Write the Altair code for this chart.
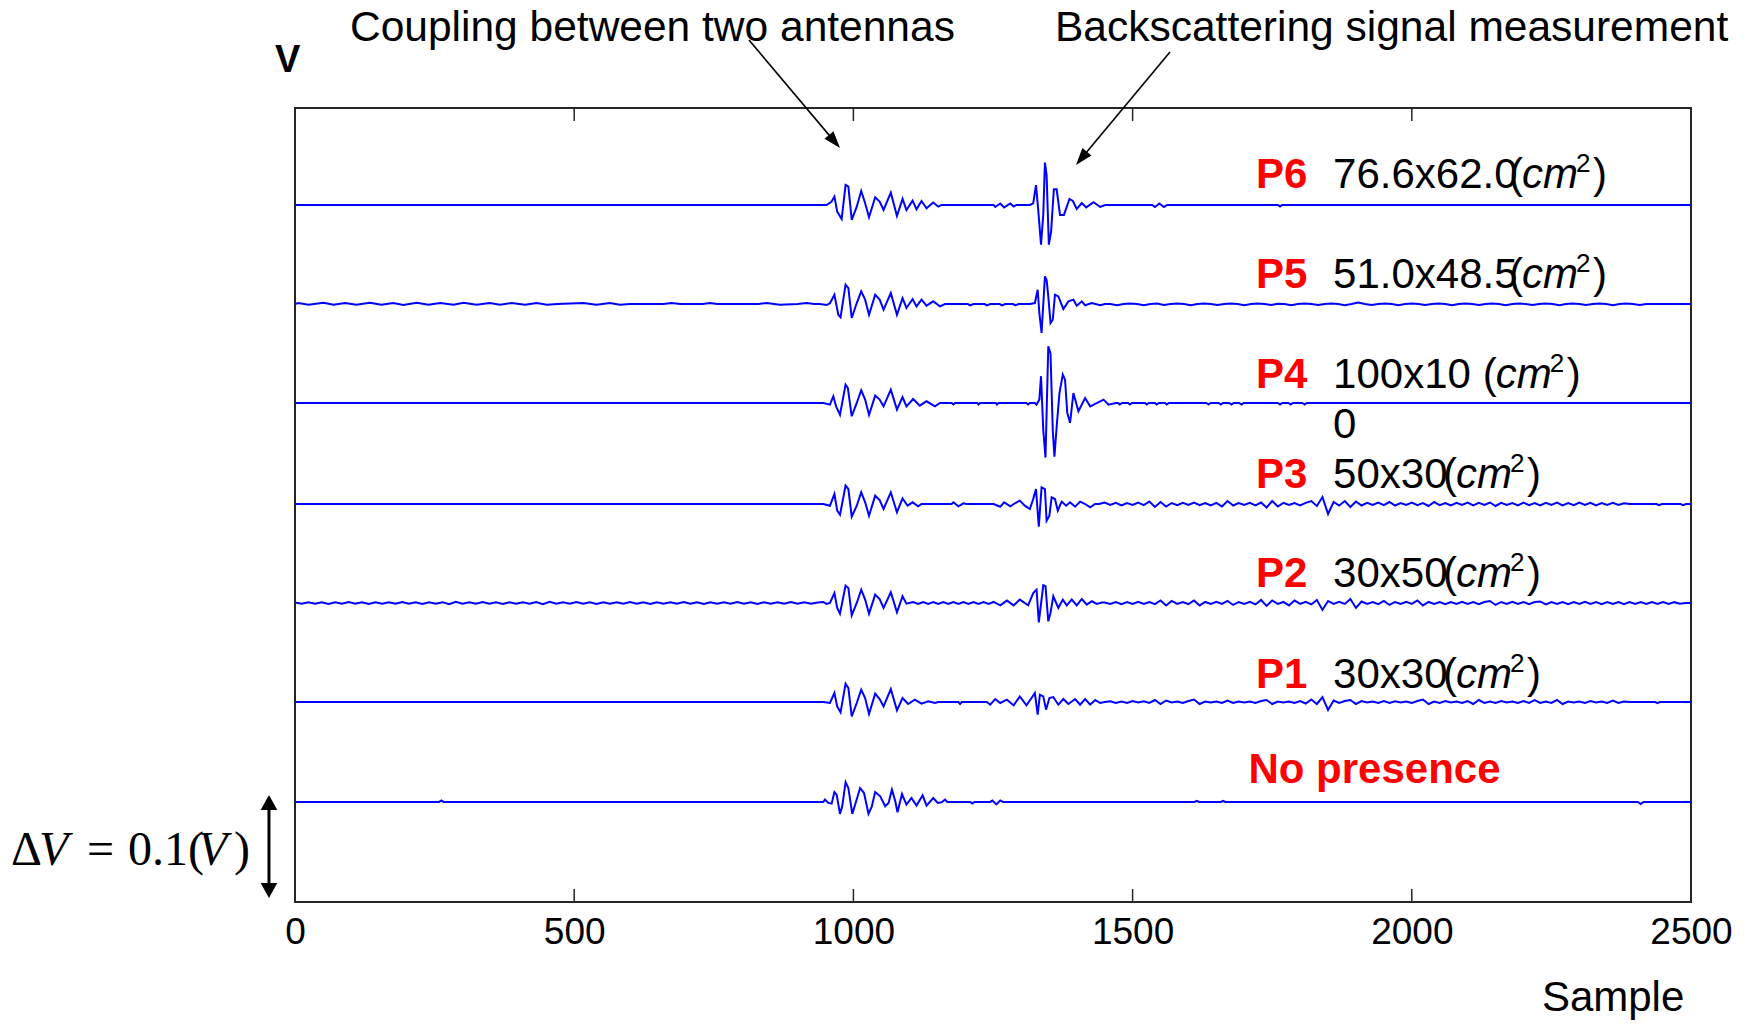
import math
import altair as alt
import pandas as pd

# ---------------- data ----------------
trace_names = ["P6", "P5", "P4", "P3", "P2", "P1", "No presence"]
trace_offsets = [0.6023, 0.5025, 0.4028, 0.3010, 0.2013, 0.1015, 0.0008]  # V

# (sample, mV) points relative to each trace baseline
P6_coupling = [(946, 0), (952, 0), (961, 3.4), (966, 8.4), (971, -6.7), (979, -14.1), (986, 20.2), (991, 18.5),
               (997, -15.1), (1006, -1.7), (1014, 14.1), (1021, 1.7), (1028, -12.4), (1039, 7.7), (1047, 3.4),
               (1054, -5.0), (1067, 12.4), (1078, -11.1), (1088, 6.1), (1095, -5.0), (1106, 4.4), (1113, -4.4),
               (1122, 4.0), (1131, -3.4), (1143, 2.4), (1152, -1.7), (1158, 0)]
P6_echo = [(1251, 0), (1254, -2), (1263, 1.5), (1270, -2.5), (1281, 1.5), (1287, -1.5), (1292, 0), (1316, 0),
           (1322, 1.7), (1327, 20), (1331, -5), (1336, -40), (1340, -10), (1343, 42.7), (1346, 30), (1350, -40),
           (1354, -27), (1359, 15.8), (1364, 15.8), (1370, -10), (1377, -10), (1387, 6), (1393, 4), (1400, -4),
           (1409, 2), (1417, -2.4), (1430, 2.7), (1442, -2), (1451, 0), (1535, 0), (1540, -2), (1548, 1.5),
           (1556, -2), (1562, 0), (1760, 0), (1764, -1.5), (1768, 0)]

P5_left = [(6, 1.0), (24, -0.8), (51, 1.2), (69, -0.8), (90, 1.0), (110, -0.8), (134, 1.2), (155, -0.8),
           (176, 1.0), (194, -1.0), (218, 1.2), (239, -0.8), (260, 1.0), (284, -0.8), (302, 1.2), (325, -0.8),
           (349, 1.0), (367, -0.8), (388, 1.0), (412, -0.8), (433, 1.0), (451, -0.8), (470, 0), (516, 1.0),
           (540, -0.8), (564, 1.0), (582, -0.8), (600, 0), (660, 0), (674, 1.0), (690, 0), (730, 0), (743, 1.0),
           (756, 0), (830, 0), (845, 1.0), (868, -0.8), (900, 0), (916, 1.0), (930, 0)]
P5_coupling = [(940, 0), (952, -1), (958, 0.8), (966, 9.4), (973, -10.8), (977, -13.4), (986, 19.5), (991, 16.1),
               (997, -14.1), (1006, 1), (1014, 12.8), (1021, 4.4), (1028, -10.8), (1039, 9.4), (1047, 4.4),
               (1054, -5.7), (1067, 11.1), (1078, -10.8), (1088, 6), (1095, -4), (1106, 5), (1113, -2.4),
               (1122, 4.4), (1131, -1.7), (1143, 2.7), (1155, -2.4), (1164, 0), (1205, 0), (1209, -1.3),
               (1215, 0), (1235, 0), (1239, -1.3), (1245, 0), (1262, 0), (1266, -1.3), (1272, 0), (1286, 0),
               (1290, -1.3), (1296, 0)]
P5_echo = [(1316, 0), (1325, 1), (1330, 14.4), (1333, -9), (1337, -29.2), (1343, 27.9), (1346, 24.2), (1349, 7.7),
           (1353, -19.2), (1357, -15.8), (1361, 9.4), (1367, 7.7), (1376, -5), (1385, 2.7), (1394, 4.4),
           (1400, -1.7), (1409, 2.7), (1415, -1.3), (1427, 1), (1442, -1.3), (1450, 0)]
P5_right_start, P5_right_step = 1460, 12
P5_right_mv = [0, -1.2, 0, 0.6, 0, -1.2, 0, 0.5, -1, 0, 0.6, 0, -1.2, 0, 0.5, 0, -1, 0, 0.6, 0, -1.2, 0, 0.5, 0,
               -1, 0.3, 0, -1.2, 0, 0.6, 0, -1, 0, 0.5, 0, -1.2, 0, 1.5, 0, -1, 0, 0.6, 0, -1.2, 0, 0.5, 0, -1, 0,
               0.6, 0, -1.2, 0, 0.5, 0, -1, 0, 0.6, 0, -1.2, 0, 0.5, 0, -1, 0, 0.6, 0, -1.2, 0, 0.5, 0, -1, 0,
               0.6, 0, -1.2, 0, 0.5, 0, -1, 0]

P4_coupling = [(946, 0), (958, -1.7), (964, 6.7), (969, -3.4), (976, -11.8), (986, 18.5), (990, 15.1),
               (997, -13.4), (1006, 0), (1014, 12.8), (1021, 3.4), (1028, -12.1), (1039, 7.4), (1047, 3.4),
               (1054, -3.4), (1067, 13.4), (1078, -6.7), (1088, 6), (1095, -3.4), (1107, 4), (1119, -2.7),
               (1131, 1.7), (1146, -3.4), (1155, 0), (1176, 0), (1179, -1.5), (1182, 0), (1222, 0), (1224, -1.5),
               (1227, 0), (1255, 0), (1257, -1.5), (1260, 0), (1310, 0), (1313, -1.5), (1316, 0)]
P4_echo = [(1325, 0), (1328, -1.7), (1333, 3.4), (1336, 27), (1340, -27), (1344, -55), (1349, 57), (1353, 50),
           (1357, -27), (1360, -54), (1364, -24), (1369, 10), (1375, 28.6), (1379, 23.5), (1383, -10),
           (1388, -20), (1394, 10), (1403, -8.4), (1415, 5), (1424, -3.4), (1448, 3.4), (1457, -1.7), (1470, 0)]
P4_right = [(1474, 0), (1477, -1.5), (1481, 0), (1492, 0), (1495, -1.5), (1499, 0), (1522, 0), (1525, -1.5),
            (1529, 0), (1540, 0), (1543, -1.5), (1547, 0), (1558, 0), (1561, -1.5), (1565, 0), (1632, 0),
            (1636, -1.5), (1640, 0), (1654, 0), (1658, -1.5), (1662, 0), (1673, 0), (1677, -1.5), (1681, 0),
            (1691, 0), (1695, -1.5), (1699, 0), (1760, 0), (1764, -1.5), (1768, 0), (1779, 0), (1783, -1.5),
            (1787, 0), (1804, 0), (1808, -1.5), (1812, 0)]

P3_coupling = [(946, 0), (958, -1.7), (966, 10), (971, -6.7), (976, -10.8), (986, 18.5), (991, 15.1),
               (997, -12.8), (1006, -1.7), (1014, 11.8), (1021, 1.7), (1028, -11.8), (1039, 8.4), (1047, 4),
               (1054, -5), (1067, 11.8), (1078, -8.4), (1088, 5.7), (1097, -1.7), (1106, 1.7), (1116, -2.4),
               (1122, 0), (1176, 0), (1179, 1.7), (1188, -2.4), (1197, 0.7), (1203, 0)]
P3_echo = [(1251, 0), (1263, -2.7), (1270, 1.7), (1281, -2.4), (1290, 1), (1298, 3.4), (1307, -1.7), (1316, -5),
           (1322, 5), (1327, 15), (1332, -22.8), (1337, 16.8), (1343, 15.1), (1346, -16.8), (1351, -11.8),
           (1355, 6.7), (1361, 5), (1366, -6.7), (1373, 2.4), (1381, -1.7), (1388, 1.7), (1397, -2.7),
           (1406, 2.4), (1415, 0), (1424, -3.4), (1433, 0)]
P3_right_start, P3_right_step = 1440, 10
P3_right_mv = [0, 1.5, -1, 1.2, -1.5, 1, -1, 1.5, -1.2, 2.5, -3, 2, -2.5, 1, -1.2, 1.2, -1, 1.5, -1.2, 1, -1.5,
               1.2, -2.5, 3, -1.5, 1, -1, 1.2, -1.5, 1.5, -3.5, 3, -2.5, 1.2, -1, 1, -1.5, 1.2, 3, -2, 7, -10, 2,
               -1.5, 3, -3, 2.5, -1.5, 1.2, -1, 1.5, -1.2, 2, -1.5, 1, -1, 1.5, -1.2, 1, -2, 2, -1.2, 1, -1.5, 1.2,
               -1, 1.5, -1.5, 1.2, -1, 1.5, -2, 1.2, -1, 1, -1.5, 1.5, -1.2, 1, -1.5, 1.2, -1, 1.5, -1.5, 1, -1.2,
               1.5, -1, 1.2, -1.5, 1, -1, 1.2, -1, 0.8, 0]
P3_tail = [(2438, 0), (2443, -1.2), (2448, 0), (2481, 0), (2486, -1.2), (2491, 0)]

P2_left_start, P2_left_step = 0, 12
P2_left_mv = [0.5, -0.8, 0.8, -0.8, 0.6, -1, 0.8, -0.8, 1, -0.8, 0.8, -1, 0.8, -0.8, 0.8, -0.8, 1, -0.8, 0.8,
              -1, 0.8, -0.8, 0.8, -1.2, 1.2, -0.8, 0.8, -0.8, 1, -0.8, 0.8, -1, 0.8, -0.8, 0.8, -0.8, 1, -1.2,
              1.2, -0.8, 0.8, -0.8, 1, -0.8, 0.8, -1, 0.8, -0.8, 0.8, -0.8, 1, -0.8, 0.8, -1, 0.8, -0.8, 0.8,
              -0.8, 1, -0.8, 0.8, -1, 0.8, -0.8, 0.8, -0.8, 1, -0.8, 0.8, -1, 0.8, -0.8, 0.8, -0.8, 1, -0.8,
              0.8, -0.8, 0.5]
P2_coupling = [(946, 1), (952, -1), (958, 0), (966, 10), (971, -5), (976, -10.8), (986, 17.5), (991, 15.1),
               (997, -12.4), (1006, 0), (1014, 13.4), (1021, 3.4), (1028, -10.8), (1039, 8.4), (1047, 4),
               (1054, -5), (1067, 10.8), (1078, -9.4), (1088, 6.7), (1095, -0.7), (1107, 1), (1116, -1),
               (1125, 1), (1134, -1), (1143, 0.8), (1152, -1), (1161, 0.8), (1170, -1), (1179, 1), (1188, -1),
               (1197, 1), (1206, -1), (1215, 1), (1224, -1), (1233, 1), (1242, -1)]
P2_echo = [(1251, 1), (1263, -2.4), (1275, 2.4), (1287, -2.4), (1298, 3.4), (1313, -2.4), (1322, 10),
           (1328, 13.4), (1332, -19.5), (1340, 17.8), (1344, 16.8), (1349, -18.5), (1353, -10), (1358, 6.7),
           (1367, -5), (1375, 3.4), (1382, -2.4), (1391, 3.4), (1400, -2.4), (1409, 4), (1418, -1.7),
           (1427, 1.7), (1436, -1), (1445, 0.5)]
P2_right_start, P2_right_step = 1450, 10
P2_right_mv = [0.5, -1, 1, -1.2, 1, -1, 1.2, -1, 1, -1.2, 2.5, -2.5, 2, -1, 1, -1.2, 2.5, -2.5, 1, -1, 1.2, -1,
               2, -2, 1, -1, 1.2, -1.5, 3, -3, 2.5, -1, 1, -2.5, 2.5, -1, 1.2, -1.5, 3, -7, 2, -1, 1.2, -1, 4, -5,
               1.5, -1, 1, -1.2, 2, -2, 1, -1, 1.2, -1, 2.5, -2.5, 1, -1, 1, -1.2, 1, -1, 1.2, -1, 1, -1.2, 1, 2,
               -2, 1, -1, 1.2, -1, 1, -1.2, 1, 1.5, -1.5, 1, -1, 1, -1.2, 1, -1, 1.2, -1, 1, -1.2, 1, -1, 1, -1.2,
               1, -1, 1, -1, 0.8, -1, 0.8, -1, 0.8, -0.8, 0]

P1_coupling = [(946, 0), (958, -1), (966, 9), (971, -4.4), (977, -10.4), (986, 18.5), (991, 14.1), (997, -14.4),
               (1006, -1), (1014, 12.4), (1021, 4), (1028, -12.1), (1039, 8.4), (1047, 3), (1054, -4.4),
               (1067, 13.1), (1078, -8.4), (1088, 4), (1098, -2), (1110, 2.4), (1122, -1.7), (1134, 0.7),
               (1146, -1), (1152, 0), (1188, 0), (1191, -2), (1194, 0)]
P1_echo = [(1239, 0), (1245, -2.7), (1254, 3), (1263, -1), (1275, 2.4), (1287, -3.4), (1298, 5.7),
           (1310, -3.4), (1319, 4), (1325, 9), (1330, -12.8), (1334, 7.4), (1340, 5.7), (1345, -7.7),
           (1351, 4), (1358, 5), (1367, -2.7), (1376, 3), (1385, -2), (1397, 3), (1406, -2.7), (1415, 3),
           (1424, -2.7), (1433, 2), (1442, -1)]
P1_right_start, P1_right_step = 1450, 10
P1_right_mv = [0, 0.8, -1, 0.5, -1, 1, -0.5, 0.8, -1, 2, -2, 1.5, -0.5, 0.5, -1, 1, 2.5, -2, 0.5, -0.5, 0.5, -1,
               1.5, -1, 0.5, -0.5, 0.5, -1, 1, 2, -2, 0.5, -0.5, 0.5, -1, 1, -1.5, 2.5, -2, 5, -8, 1.5, -1, 1, 2,
               -2, 1, -0.5, 0.5, -1, 1, -1, 0.8, -0.5, 0.5, -1, 1, 2.5, -2, 0.5, -1, 1, -0.5, 0.5, -1, 1, -2, 2,
               -1, 0.5, -1, 1, -0.5, 0.5, -1, 1, -1, 2, -1, 0.5, -1, 2, -2, 0.5, -0.5, 0.5, -1, 1, -0.5, 0.5, -1,
               1.5, -1, 0.5, 0]
P1_tail = [(2436, 0), (2440, -1.2), (2444, 0)]

NP_coupling = [(258, 0), (262, 1.5), (266, 0), (946, 0), (949, 2.4), (955, -1), (961, -1.7), (966, 10),
               (970, 7.4), (976, -12), (980, -4.4), (986, 20), (991, 14.1), (998, -12), (1004, -1), (1012, 14),
               (1019, 9), (1027, -12), (1033, -4.4), (1039, 10), (1048, 5.7), (1057, -4.4), (1063, -1),
               (1069, 12.4), (1075, 0.7), (1079, -10.4), (1087, 8), (1095, -2.7), (1104, 4), (1113, -3.7),
               (1124, 6.7), (1131, -3.7), (1143, 4), (1151, -1), (1158, -0.3), (1164, 2.4), (1168, 0)]
NP_blips = [(1209, 0), (1213, -1.5), (1217, 0), (1245, 0), (1249, 1.5), (1256, -2.4), (1263, 1.5), (1268, 0),
            (1611, 0), (1615, 1.2), (1619, 0), (1658, 0), (1662, 1.0), (1666, 0), (2405, 0), (2410, -2),
            (2415, 0)]

# labels
size_texts = ["76.6x62.0", "51.0x48.5", "100x10", "50x30", "30x50", "30x30"]
x_ticks = [0, 500, 1000, 1500, 2000, 2500]


def grid(start, step, values):
    return [(start + i * step, v) for i, v in enumerate(values)]


segments = {
    "P6": [P6_coupling, P6_echo],
    "P5": [P5_left, P5_coupling, P5_echo, grid(P5_right_start, P5_right_step, P5_right_mv)],
    "P4": [P4_coupling, P4_echo, P4_right],
    "P3": [P3_coupling, P3_echo, grid(P3_right_start, P3_right_step, P3_right_mv), P3_tail],
    "P2": [grid(P2_left_start, P2_left_step, P2_left_mv), P2_coupling, P2_echo,
           grid(P2_right_start, P2_right_step, P2_right_mv)],
    "P1": [P1_coupling, P1_echo, grid(P1_right_start, P1_right_step, P1_right_mv), P1_tail],
    "No presence": [NP_coupling, NP_blips],
}

rows = []
for name, off in zip(trace_names, trace_offsets):
    pts = [(0, 0.0)] + [p for seg in segments[name] for p in seg] + [(2500, 0.0)]
    pts.sort(key=lambda p: p[0])
    for i, (s, mv) in enumerate(pts):
        rows.append({"trace": name, "sample": s, "v": off + mv / 1000.0, "order": i})
df = pd.DataFrame(rows)

# ---------------- geometry ----------------
W, H = 1396, 794
X0, X1 = 0, 2500
Y0, Y1 = -0.1, 0.7
PXS = W / (X1 - X0)   # px per sample
PXV = H / (Y1 - Y0)   # px per volt

XS = alt.Scale(domain=[X0, X1], nice=False, zero=False)
YS = alt.Scale(domain=[Y0, Y1], nice=False, zero=False)
XAX = alt.Axis(values=x_ticks, format="d", title=None, grid=False, ticks=False, domain=False,
               labelFont="Liberation Sans", labelFontSize=37, labelColor="black",
               labelPadding=12, labelFlush=False, labelOverlap=False, labelBound=False)


def xe(f):
    return alt.X(f"{f}:Q", scale=XS, axis=XAX)


def ye(f):
    return alt.Y(f"{f}:Q", scale=YS, axis=None)


def texts(d, **kw):
    return alt.Chart(pd.DataFrame(d)).mark_text(align="left", baseline="alphabetic", **kw).encode(
        x=xe("x"), y=ye("y"), text="t:N")


layers = []

# signal lines
layers.append(alt.Chart(df).mark_line(color="#0000ff", strokeWidth=2, clip=True).encode(
    x=xe("sample"), y=ye("v"), detail="trace:N", order="order:Q"))

# inward ticks (bottom and top)
tick_in = 13 / PXV
inner = [t for t in x_ticks if X0 < t < X1]
tdf = pd.DataFrame({"x": inner * 2,
                    "y": [Y0] * len(inner) + [Y1] * len(inner),
                    "y2": [Y0 + tick_in] * len(inner) + [Y1 - tick_in] * len(inner)})
layers.append(alt.Chart(tdf).mark_rule(color="#262626", strokeWidth=1.5).encode(
    x=xe("x"), y=ye("y"), y2="y2:Q"))

# right-hand labels
lab_y = [0.6194, 0.5183, 0.4176, 0.3168, 0.2177, 0.1153]
p_x, size_x = 1721, 1859
paren_x = [2174, 2174, 2127, 2056, 2056, 2056]
layers.append(texts({"x": [p_x] * 6, "y": lab_y, "t": trace_names[:6]},
                    font="Liberation Sans", fontSize=42, fontWeight="bold", color="#ff0000"))
layers.append(texts({"x": [1707.5], "y": [0.0196], "t": ["No presence"]},
                    font="Liberation Sans", fontSize=42, fontWeight="bold", color="#ff0000"))
layers.append(texts({"x": [size_x] * 6 + [size_x], "y": lab_y + [0.3675], "t": size_texts + ["0"]},
                    font="Liberation Sans", fontSize=42, color="black"))
layers.append(texts({"x": paren_x + [px + 84 / PXS for px in paren_x],
                     "y": lab_y * 2, "t": ["("] * 6 + [")"] * 6},
                    font="Liberation Sans", fontSize=42, color="black"))
layers.append(texts({"x": [px + 13 / PXS for px in paren_x], "y": lab_y, "t": ["cm"] * 6},
                    font="Liberation Sans", fontSize=42, fontStyle="italic", color="black"))
layers.append(texts({"x": [px + 67 / PXS for px in paren_x], "y": [y + 16 / PXV for y in lab_y],
                     "t": ["2"] * 6},
                    font="Liberation Sans", fontSize=26, color="black"))

# titles / annotations
layers.append(texts({"x": [98.5, 1361], "y": [0.7675, 0.7675],
                     "t": ["Coupling between two antennas", "Backscattering signal measurement"]},
                    font="Liberation Sans", fontSize=42.5, color="black"))
layers.append(texts({"x": [-35.8], "y": [0.7363], "t": ["V"]},
                    font="Liberation Sans", fontSize=38, fontWeight="bold", color="black"))
layers.append(texts({"x": [2233], "y": [-0.2098], "t": ["Sample"]},
                    font="Liberation Sans", fontSize=42, color="black"))

# Delta V = 0.1(V)
dv_x, dv_y = -508.6, -0.0627
layers.append(texts({"x": [dv_x, dv_x + 76 / PXS, dv_x + 117 / PXS, dv_x + 223 / PXS],
                     "y": [dv_y] * 4, "t": ["Δ", "=", "0.1(", ")"]},
                    font="Liberation Serif", fontSize=48, color="black"))
layers.append(texts({"x": [dv_x + 28 / PXS, dv_x + 187 / PXS], "y": [dv_y] * 2, "t": ["V", "V"]},
                    font="Liberation Serif", fontSize=48, fontStyle="italic", color="black"))


# arrows
def head(tail, tip, back):
    dx = (tip[0] - tail[0]) * PXS
    dy = -(tip[1] - tail[1]) * PXV
    L = math.hypot(dx, dy)
    ux, uy = dx / L, dy / L
    ang = math.degrees(math.atan2(ux, -uy)) % 360
    return tip[0] - back * ux / PXS, tip[1] + back * uy / PXV, ang


arrows = [((813, 0.7685), (976, 0.6597)), ((1567, 0.7564), (1398.6, 0.6426))]
ar = {"x": [], "y": [], "x2": [], "y2": [], "a": []}
for tail, tip in arrows:
    cx, cy, a = head(tail, tip, 9)
    ar["x"].append(tail[0]); ar["y"].append(tail[1])
    ar["x2"].append(cx); ar["y2"].append(cy); ar["a"].append(a)
adf = pd.DataFrame(ar)
layers.append(alt.Chart(adf).mark_rule(color="black", strokeWidth=1.6).encode(
    x=xe("x"), y=ye("y"), x2="x2:Q", y2="y2:Q"))
layers.append(alt.Chart(adf).mark_point(shape="M0,-1L0.65,0.9L-0.65,0.9Z", filled=True, color="black",
                                        opacity=1, size=324, strokeWidth=0).encode(
    x=xe("x2"), y=ye("y2"), angle=alt.Angle("a:Q", scale=None)))

# vertical double arrow for Delta V
dva_x, dva_top, dva_bot = -46.6, 0.0078, -0.096
back = 8.3
ddf = pd.DataFrame({"x": [dva_x], "y": [dva_top - back / PXV], "y2": [dva_bot + back / PXV]})
layers.append(alt.Chart(ddf).mark_rule(color="black", strokeWidth=3).encode(
    x=xe("x"), y=ye("y"), y2="y2:Q"))
hdf = pd.DataFrame({"x": [dva_x, dva_x], "y": [dva_top - back / PXV, dva_bot + back / PXV], "a": [0, 180]})
layers.append(alt.Chart(hdf).mark_point(shape="M0,-1L1,0.8L-1,0.8Z", filled=True, color="black",
                                        opacity=1, size=276, strokeWidth=0).encode(
    x=xe("x"), y=ye("y"), angle=alt.Angle("a:Q", scale=None)))

chart = alt.layer(*layers).properties(
    width=W, height=H,
    autosize=alt.AutoSizeParams(type="none"),
    padding={"left": 287, "top": 100, "right": 46, "bottom": 118},
    background="white",
).configure_view(stroke="#262626", strokeWidth=2)

chart.save("out.html", embed_options={"renderer": "svg", "actions": False})
